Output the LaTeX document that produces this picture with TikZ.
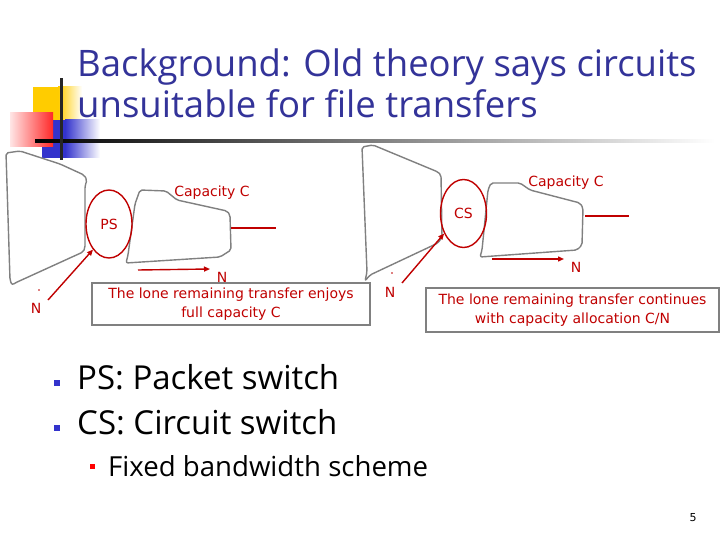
\documentclass[tikz,border=0pt]{standalone}
\usepackage{fontspec}
\setmainfont{DejaVu Sans}
\newfontfamily\comicfont{Open Sans}
\usetikzlibrary{shapes.geometric,arrows.meta}
\definecolor{titleblue}{RGB}{51,51,153}
\definecolor{lblred}{RGB}{192,0,0}
\definecolor{shapegray}{RGB}{128,128,128}
\definecolor{logoyellow}{RGB}{255,204,0}
\definecolor{logoblue}{RGB}{51,51,204}
\definecolor{logored}{RGB}{255,40,40}
\begin{document}
\begin{tikzpicture}[x=1pt,y=-1pt,
  cloud/.style={draw=shapegray,line width=1.4pt,line join=round,rounded corners=2pt},
  sw/.style={ellipse,draw=lblred,line width=1.4pt,minimum width=46pt,minimum height=68pt,inner sep=0pt,text=lblred,font=\fontsize{14}{16}\selectfont},
  lbl/.style={text=lblred,font=\fontsize{14}{16}\selectfont,inner sep=0pt},
  note/.style={draw=shapegray,line width=1.4pt,text=lblred,font=\fontsize{14}{18.5}\selectfont,align=center,inner sep=0pt},
  link/.style={draw=lblred,line width=1.4pt},
  flow/.style={draw=lblred,line width=1.4pt,-{Triangle[length=6pt,width=5pt]}},
  titletext/.style={anchor=base west,inner sep=0pt,text=titleblue,font=\comicfont\fontsize{36.5}{40}\selectfont},
  bullettext/.style={anchor=base west,inner sep=0pt,text=black,font=\comicfont\fontsize{33}{38}\selectfont},
  subtext/.style={anchor=base west,inner sep=0pt,text=black,font=\comicfont\fontsize{27.6}{32}\selectfont}
]
\useasboundingbox (0,0) rectangle (720,540);
\fill[white] (0,0) rectangle (720,540);

% logo
\fill[logoyellow] (33,87) rectangle (58,120);
\shade[left color=logoyellow,right color=white] (58,87) rectangle (82,120);
\fill[logoblue] (42,120) rectangle (65,158);
\shade[left color=logoblue,right color=white] (65,120) rectangle (100,158);
\shade[left color=red!10,right color=logored] (10,113) rectangle (53,147);
\shade[left color=black,right color=white] (35,139.5) rectangle (715,142.5);
\fill[black!85] (59.5,78) rectangle (62.5,160);

% title
\node[titletext] (t1) at (77,77) {Background: Old theory says circuits};
\node[titletext] (t2) at (77,118) {unsuitable for file transfers};

% left (packet switch) scene
\draw[cloud] (6,153) -- (20,151) -- (60,164) -- (84,175) -- (87,180) -- (85,186)
  -- (85,248) -- (83,252) -- (15,283) -- (12,285) -- (10,280) -- cycle;
\draw[cloud] (140,190) -- (166,191) -- (177,200) -- (227,211) -- (230,215)
  -- (231,250) -- (220,257) -- (126,263) -- (128,255) -- (135,204) -- cycle;
\node[sw] (ps) at (109,224) {PS};
\node[lbl] (capA) at (212,193) {Capacity C};
\coordinate (outA1) at (231,228);
\coordinate (outA2) at (276,228);
\draw[link] (outA1) -- (outA2);
\coordinate (fA1) at (138,270);
\coordinate (fA2) at (210,269);
\draw[flow] (fA1) -- (fA2);
\node[lbl] (nA) at (222,277) {N};
\node[lbl] (nPS) at (36,308) {N};
\fill[lblred] (39,290) circle (0.9);
\coordinate (nPSs) at (48,300);
\draw[flow] (nPSs) -- (ps.238);
\node[note,minimum width=278pt,minimum height=42pt] (boxA) at (231,304)
  {The lone remaining transfer enjoys\\full capacity C};

% right (circuit switch) scene
\draw[cloud] (362,147) -- (373,145) -- (438,172) -- (441,175) -- (442,237)
  -- (438,243) -- (370,275) -- (365,281) -- (367,272) -- cycle;
\draw[cloud] (491,183) -- (520,183) -- (530,190) -- (580,203) -- (583,208)
  -- (582,245) -- (577,250) -- (480,257) -- (482,250) -- (488,190) -- cycle;
\node[sw] (cs) at (463.5,213.5) {CS};
\node[lbl] (capB) at (566,183) {Capacity C};
\coordinate (outB1) at (585,216);
\coordinate (outB2) at (629,216);
\draw[link] (outB1) -- (outB2);
\coordinate (fB1) at (492,259);
\coordinate (fB2) at (564,259);
\draw[flow] (fB1) -- (fB2);
\node[lbl] (nB) at (576,267) {N};
\node[lbl] (nCS) at (390,292) {N};
\fill[lblred] (392,273) circle (0.9);
\coordinate (nCSs) at (402,283);
\draw[flow] (nCSs) -- (cs.226);
\node[note,minimum width=293pt,minimum height=44pt] (boxB) at (572.5,310)
  {The lone remaining transfer continues\\with capacity allocation C/N};

% bullets
\fill[logoblue] (54,380) rectangle (60,386);
\node[bullettext] (b1) at (77,389) {PS: Packet switch};
\fill[logoblue] (54,425) rectangle (60,431);
\node[bullettext] (b2) at (77,434) {CS: Circuit switch};
\fill[red] (89.5,463.5) rectangle (94.5,468.5);
\node[subtext] (b3) at (108,476) {Fixed bandwidth scheme};

% page number
\node[anchor=base,inner sep=0pt,font=\fontsize{11}{13}\selectfont] (pg) at (693,521) {5};
\end{tikzpicture}
\end{document}
